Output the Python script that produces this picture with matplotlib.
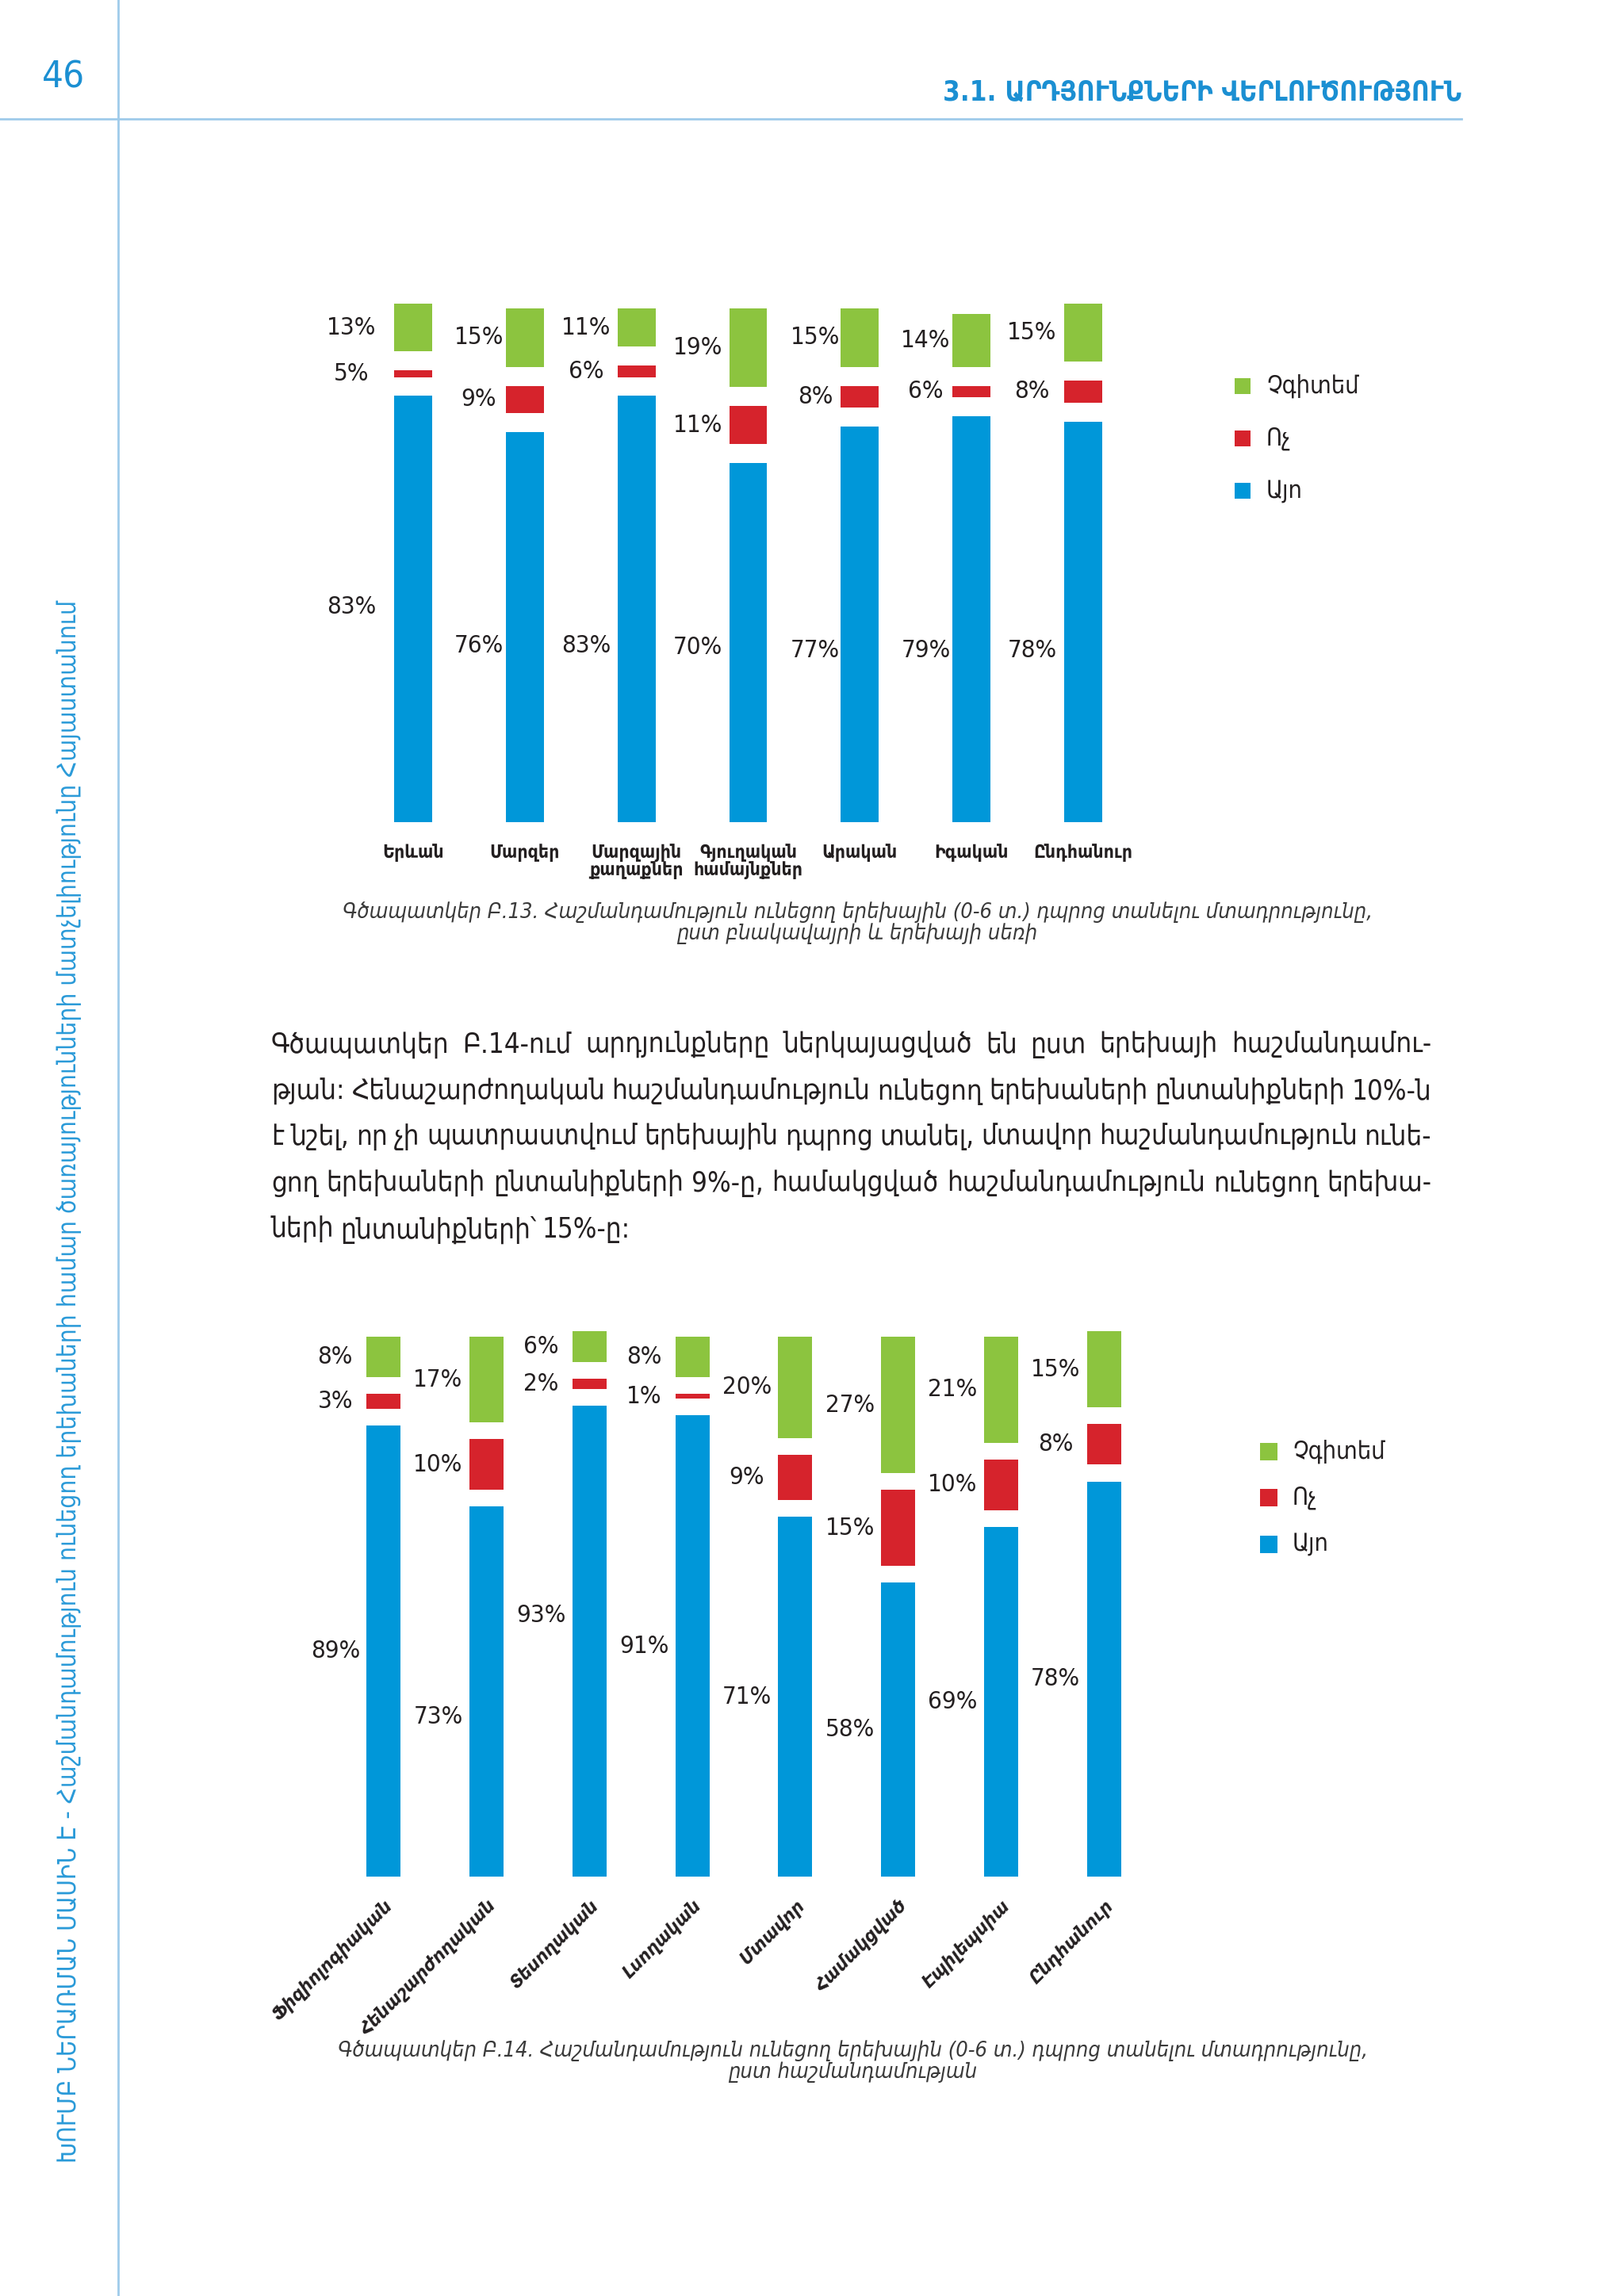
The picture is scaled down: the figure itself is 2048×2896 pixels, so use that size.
import numpy as np
import matplotlib
matplotlib.use('Agg')
import matplotlib.pyplot as plt
from matplotlib.patches import Rectangle
from matplotlib.lines import Line2D

plt.rcParams['font.family'] = ['DejaVu Sans']
plt.rcParams['font.stretch'] = 'condensed'

W, H = 2048, 2896

GREEN = '#8cc43f'
RED = '#d6232c'
BLUE = '#0097d9'
PAGE_BLUE = '#1b8fd2'
DARK = '#231f20'

# chart B.13 - by settlement / sex
cat1 = ['Երևան', 'Մարզեր', 'Մարզային\nքաղաքներ', 'Գյուղական\nհամայնքներ', 'Արական', 'Իգական', 'Ընդհանուր']
yes1 = [83, 76, 83, 70, 77, 79, 78]
no1 = [5, 9, 6, 11, 8, 6, 8]
dk1 = [13, 15, 11, 19, 15, 14, 15]

# chart B.14 - by disability
cat2 = ['Ֆիզիոլոգիական', 'Հենաշարժողական', 'Տեսողական', 'Լսողական', 'Մտավոր',
        'Համակցված', 'Էպիլեպսիա', 'Ընդհանուր']
yes2 = [89, 73, 93, 91, 71, 58, 69, 78]
no2 = [3, 10, 2, 1, 9, 15, 10, 8]
dk2 = [8, 17, 6, 8, 20, 27, 21, 15]

legend_labels = ['Չգիտեմ', 'Ոչ', 'Այո']

paragraph = [
    'Գծապատկեր Բ.14-ում արդյունքները ներկայացված են ըստ երեխայի հաշմանդամու-',
    'թյան: Հենաշարժողական հաշմանդամություն ունեցող երեխաների ընտանիքների 10%-ն',
    'է նշել, որ չի պատրաստվում երեխային դպրոց տանել, մտավոր հաշմանդամություն ունե-',
    'ցող երեխաների ընտանիքների 9%-ը, համակցված հաշմանդամություն ունեցող երեխա-',
    'ների ընտանիքների՝ 15%-ը:',
]
caption1 = ('Գծապատկեր Բ.13. Հաշմանդամություն ունեցող երեխային (0-6 տ.) դպրոց տանելու մտադրությունը,\n'
            'ըստ բնակավայրի և երեխայի սեռի')
caption2 = ('Գծապատկեր Բ.14. Հաշմանդամություն ունեցող երեխային (0-6 տ.) դպրոց տանելու մտադրությունը,\n'
            'ըստ հաշմանդամության')
side_text = ('ԽՈՒՄԲ ՆԵՐԱՌՄԱՆ ՄԱՍԻՆ Է - Հաշմանդամություն ունեցող երեխաների համար '
             'ծառայությունների մատչելիությունը Հայաստանում')


def fx(px):
    return px / W


def fy(py):
    return 1 - py / H


fig = plt.figure(figsize=(W / 100, H / 100), dpi=100)
fig.patch.set_facecolor('white')

# page frame
fig.add_artist(Line2D([fx(149), fx(149)], [0, 1], color='#9fcbea', lw=2))
fig.add_artist(Line2D([0, fx(1843)], [fy(150), fy(150)], color='#9fcbea', lw=2))
fig.text(fx(80), fy(98), '46', color=PAGE_BLUE, fontsize=34, ha='center', va='center')
fig.text(fx(1843), fy(116), '3.1. ԱՐԴՅՈՒՆՔՆԵՐԻ ՎԵՐԼՈՒԾՈՒԹՅՈՒՆ', color=PAGE_BLUE,
         fontsize=25, fontweight='bold', ha='right', va='center')
fig.text(fx(87), fy(1742), side_text, color='#2a9ad8', fontsize=22.7, rotation=90,
         ha='center', va='center')


def draw_legend(x_sq, ys, sq, x_txt, size):
    cols = [GREEN, RED, BLUE]
    for lab, y, c in zip(legend_labels, ys, cols):
        fig.add_artist(Rectangle((fx(x_sq - sq / 2), fy(y + sq / 2)), sq / W, sq / H,
                                 facecolor=c, edgecolor='none'))
        fig.text(fx(x_txt), fy(y), lab, fontsize=size, color=DARK, va='center', ha='left')


# ---------- chart 1 ----------
g1 = 3.7
ax1 = fig.add_axes([fx(380), fy(1037), fx(1507) - fx(380), 680 / H])
x1 = np.arange(len(cat1))
y1 = np.array(yes1)
n1 = np.array(no1)
d1 = np.array(dk1)
ax1.bar(x1, y1, width=0.34, color=BLUE)
ax1.bar(x1, n1 - g1, bottom=y1 + g1, width=0.34, color=RED)
ax1.bar(x1, d1 - g1, bottom=y1 + n1 + g1, width=0.34, color=GREEN)
ax1.set_xlim(-1, 7)
ax1.set_ylim(0, 105)
ax1.axis('off')

yes_lab1 = [42.0, 34.4, 34.4, 34.1, 33.5, 33.5, 33.5]
lab_off1 = [-0.55, -0.41, -0.45, -0.45, -0.40, -0.41, -0.46]
for i in range(len(cat1)):
    lx = i + lab_off1[i]
    ax1.text(lx, yes_lab1[i], f'{yes1[i]}%', ha='center', va='center', fontsize=22.5, color=DARK)
    ax1.text(lx, y1[i] + g1 + (n1[i] - g1) / 2, f'{no1[i]}%', ha='center', va='center',
             fontsize=22.5, color=DARK)
    ax1.text(lx, y1[i] + n1[i] + g1 + (d1[i] - g1) / 2, f'{dk1[i]}%', ha='center',
             va='center', fontsize=22.5, color=DARK)
    ax1.text(i, -4.2, cat1[i], ha='center', va='top', fontsize=16.5, fontweight='bold',
             color=DARK, linespacing=0.95, multialignment='center')

draw_legend(1567, [487, 553, 619], 20, 1597, 22)
fig.text(fx(1081), fy(1164), caption1, ha='center', va='center', fontsize=19.5,
         style='italic', color='#3a3a3a', linespacing=1.0)

# ---------- paragraph (justified) ----------
renderer = fig.canvas.get_renderer()
para_y = [1318, 1377, 1434, 1493, 1551]
x_left, x_right = 342, 1805
for k, line in enumerate(paragraph):
    words = line.split(' ')
    texts = [fig.text(0, fy(para_y[k]), w, fontsize=25, color=DARK, va='center', ha='left')
             for w in words]
    widths = [t.get_window_extent(renderer).width for t in texts]
    if k < len(paragraph) - 1:
        gap = (x_right - x_left - sum(widths)) / (len(words) - 1)
    else:
        gap = 25 * 0.3
    xp = x_left
    for t, w in zip(texts, widths):
        t.set_x(fx(xp))
        xp += w + gap

# ---------- chart 2 ----------
g2 = 3.3
ax2 = fig.add_axes([fx(354), fy(2367), fx(1522) - fx(354), 703 / H])
x2 = np.arange(len(cat2))
y2 = np.array(yes2)
n2 = np.array(no2)
d2 = np.array(dk2)
ax2.bar(x2, y2, width=0.33, color=BLUE)
ax2.bar(x2, n2, bottom=y2 + g2, width=0.33, color=RED)
ax2.bar(x2, d2, bottom=y2 + n2 + 2 * g2, width=0.33, color=GREEN)
ax2.set_xlim(-1, 8)
ax2.set_ylim(0, 110)
ax2.axis('off')

yes_shift2 = [0, -5, 5, 0, 0, 0, 0, 0]
for i in range(len(cat2)):
    lx = i - 0.47
    ax2.text(lx, y2[i] / 2 + yes_shift2[i], f'{yes2[i]}%', ha='center', va='center',
             fontsize=22.5, color=DARK)
    ax2.text(lx, y2[i] + g2 + n2[i] / 2, f'{no2[i]}%', ha='center', va='center',
             fontsize=22.5, color=DARK)
    ax2.text(lx, y2[i] + n2[i] + 2 * g2 + d2[i] / 2, f'{dk2[i]}%', ha='center',
             va='center', fontsize=22.5, color=DARK)
    ax2.text(i + 0.0, -4, cat2[i], ha='right', va='top', rotation=45,
             rotation_mode='anchor', fontsize=16.5, fontweight='bold', style='italic',
             color=DARK)

draw_legend(1600, [1831, 1889, 1948], 22, 1630, 22)
fig.text(fx(1075), fy(2600), caption2, ha='center', va='center', fontsize=19.5,
         style='italic', color='#3a3a3a', linespacing=1.0)

fig.savefig('out.png', dpi=100, facecolor='white')
plt.close()
